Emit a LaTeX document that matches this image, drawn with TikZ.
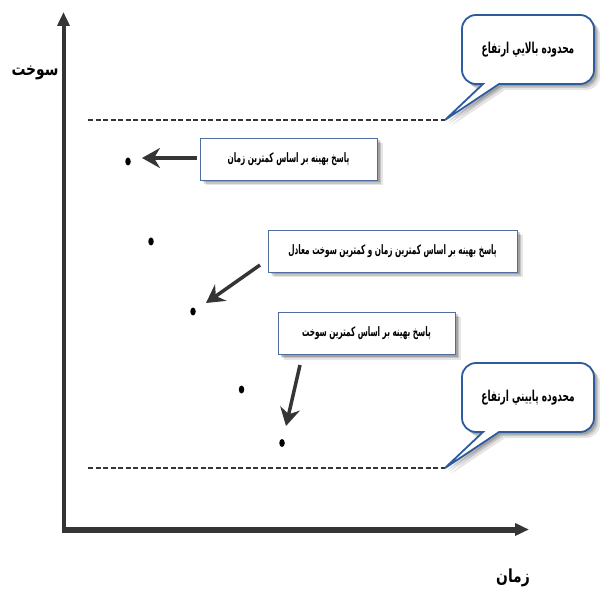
\documentclass[tikz,border=0pt]{standalone}
\usepackage{fontspec}
\newfontfamily\arabicfont[Script=Arabic,FakeStretch=0.56]{DejaVu Sans}
\newfontfamily\arabiccall[Script=Arabic,FakeStretch=0.6]{DejaVu Sans}
\newfontfamily\arabicaxis[Script=Arabic,FakeStretch=0.77]{DejaVu Sans}
\TeXXeTstate=1
\usetikzlibrary{arrows.meta,shadows,shapes.geometric}
\definecolor{boxblue}{HTML}{4F6D9E}
\definecolor{callblue}{HTML}{2E5A9E}
\definecolor{axisgray}{HTML}{353535}
\begin{document}
\begin{tikzpicture}[x=1pt,y=1pt,
  lbl/.style={font=\arabicfont\bfseries\fontsize{13}{15}\selectfont},
  clbl/.style={font=\arabiccall\bfseries\fontsize{15}{17}\selectfont},
  axlbl/.style={font=\arabicaxis\bfseries\fontsize{18}{20}\selectfont},
  softshadow/.style={
    general shadow={fill=black,opacity=.10,shadow xshift=5.5pt,shadow yshift=-5.5pt},
    general shadow={fill=black,opacity=.14,shadow xshift=4pt,shadow yshift=-4pt},
    general shadow={fill=black,opacity=.18,shadow xshift=2.5pt,shadow yshift=-2.5pt}},
  txtbox/.style={draw=boxblue,line width=0.9pt,fill=white,inner sep=0pt,minimum height=42pt,softshadow},
  dotnode/.style={ellipse,fill=black,inner sep=0pt,minimum width=5.5pt,minimum height=8pt},
  arr/.style={draw=axisgray,line width=3.5pt,-{Stealth[length=18pt,width=20pt,inset=6pt]}},
  axis/.style={draw=axisgray,-{Triangle[length=14pt,width=12pt]}},
  limit/.style={draw=axisgray,line width=2.5pt,dash pattern=on 5pt off 2.5pt},
  callbox/.pic={
    \foreach \s/\o in {6/0.10,4/0.14,2.5/0.18}
      \fill[black,opacity=\o,shift={(\s,-\s)}] (37,0) -- (118,0) arc[start angle=-90,end angle=0,radius=14pt] -- (132,55) arc[start angle=0,end angle=90,radius=14pt] -- (14,69) arc[start angle=90,end angle=180,radius=14pt] -- (0,14) arc[start angle=180,end angle=270,radius=14pt] -- (21,0) -- (-17,-36) -- cycle;
    \draw[callblue,line width=1.8pt,fill=white,line join=miter] (37,0) -- (118,0) arc[start angle=-90,end angle=0,radius=14pt] -- (132,55) arc[start angle=0,end angle=90,radius=14pt] -- (14,69) arc[start angle=90,end angle=180,radius=14pt] -- (0,14) arc[start angle=180,end angle=270,radius=14pt] -- (21,0) -- (-17,-36) -- cycle;
  }]
\useasboundingbox (0,0) rectangle (600,598);

% axes
\coordinate (origin) at (63.5,68.5);
\coordinate (ytip) at (63.5,586);
\coordinate (xtip) at (529,68.5);
\coordinate (ybase) at (63.5,65.5);
\coordinate (xbase) at (61.5,68.5);
\draw[axis,line width=4pt] (ybase) -- (ytip);
\draw[axis,line width=6pt] (xbase) -- (xtip);
\node[axlbl] (ylabel) at (35,525) {\beginR سوخت\endR};
\node[axlbl] (xlabel) at (513,20) {\beginR زمان\endR};

% limit lines
\coordinate (up1) at (88,478);
\coordinate (up2) at (445,478);
\coordinate (lo1) at (88,130);
\coordinate (lo2) at (445,130);
\draw[limit] (up1) -- (up2);
\draw[limit] (lo1) -- (lo2);

% callouts
\pic (ucall) at (462,514) {callbox};
\pic (lcall) at (462,166) {callbox};
\node[clbl] (uctext) at (528,548) {\beginR محدوده بالايي ارتفاع\endR};
\node[clbl] (lctext) at (528,200) {\beginR محدوده پاييني ارتفاع\endR};

% dots
\node[dotnode] (d1) at (128,436.5) {};
\node[dotnode] (d2) at (151,356.5) {};
\node[dotnode] (d3) at (193,286.5) {};
\node[dotnode] (d4) at (241.5,208.5) {};
\node[dotnode] (d5) at (282,155) {};

% text boxes
\node[txtbox,minimum width=177pt,lbl] (b1) at (288.5,439) {\beginR پاسخ بهينه بر اساس كمترين زمان\endR};
\node[txtbox,minimum width=249pt,lbl] (b2) at (392.5,347) {\beginR پاسخ بهينه بر اساس كمترين زمان و كمترين سوخت معادل\endR};
\node[txtbox,minimum width=177pt,lbl] (b3) at (366.5,265) {\beginR پاسخ بهينه بر اساس كمترين سوخت\endR};

% arrows
\coordinate (s1) at (197,440);
\coordinate (t1) at (142,440);
\coordinate (s2) at (260,333);
\coordinate (t2) at (206,295);
\coordinate (s3) at (300,233);
\coordinate (t3) at (286,172);
\draw[arr] (s1) -- (t1);
\draw[arr] (s2) -- (t2);
\draw[arr] (s3) -- (t3);
\end{tikzpicture}
\end{document}
